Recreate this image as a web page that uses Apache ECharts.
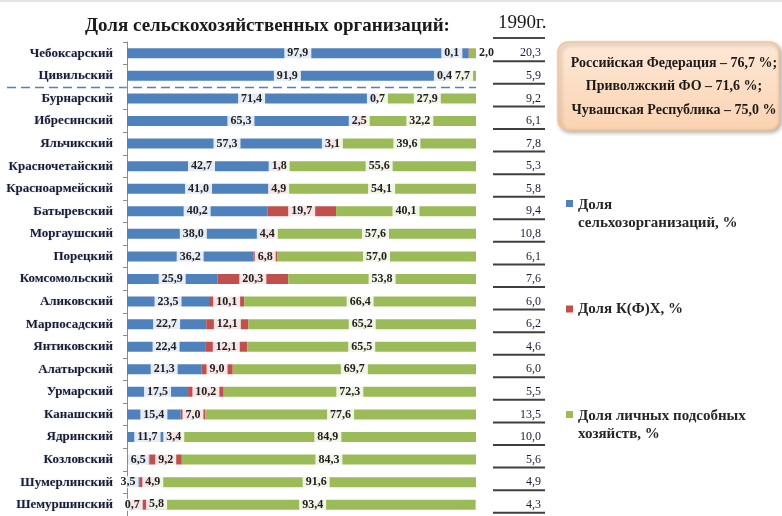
<!DOCTYPE html>
<html>
<head>
    <meta charset="utf-8">
    <title>Доля сельскохозяйственных организаций</title>
    <script type="text/javascript" src="https://cdn.jsdelivr.net/npm/echarts@6/dist/echarts.min.js"></script>
    <style>
    html, body { margin: 0; padding: 0; background: #fff; }
    #main { width: 782px; height: 516px; }
    </style>
</head>
<body>
    <div id="main"></div>
    <script type="text/javascript">
    // районы (сверху вниз)
    const districts = ['Чебоксарский', 'Цивильский', 'Бурнарский', 'Ибресинский', 'Яльчикский',
        'Красночетайский', 'Красноармейский', 'Батыревский', 'Моргаушский', 'Порецкий',
        'Комсомольский', 'Аликовский', 'Марпосадский', 'Янтиковский', 'Алатырский',
        'Урмарский', 'Канашский', 'Ядринский', 'Козловский', 'Шумерлинский', 'Шемуршинский'];
    // доля сельхозорганизаций, %
    const orgShare = [97.9, 91.9, 71.4, 65.3, 57.3, 42.7, 41.0, 40.2, 38.0, 36.2, 25.9,
        23.5, 22.7, 22.4, 21.3, 17.5, 15.4, 11.7, 6.5, 3.5, 0.7];
    // доля К(Ф)Х, %
    const kfhShare = [0.1, 0.4, 0.7, 2.5, 3.1, 1.8, 4.9, 19.7, 4.4, 6.8, 20.3,
        10.1, 12.1, 12.1, 9.0, 10.2, 7.0, 3.4, 9.2, 4.9, 5.8];
    // доля личных подсобных хозяйств, %
    const lphShare = [2.0, 7.7, 27.9, 32.2, 39.6, 55.6, 54.1, 40.1, 57.6, 57.0, 53.8,
        66.4, 65.2, 65.5, 69.7, 72.3, 77.6, 84.9, 84.3, 91.6, 93.4];
    // 1990 г.
    const share1990 = [20.3, 5.9, 9.2, 6.1, 7.8, 5.3, 5.8, 9.4, 10.8, 6.1, 7.6,
        6.0, 6.2, 4.6, 6.0, 5.5, 13.5, 10.0, 5.6, 4.9, 4.3];
    const summaryLines = ['Российская Федерация – 76,7 %;', 'Приволжский ФО – 71,6 %;', 'Чувашская Республика – 75,0 %'];

    const serif = "'Liberation Serif', 'Times New Roman', serif";
    const fmt = v => v.toFixed(1).replace('.', ',');

    const labelBase = {
        show: true,
        position: 'inside',
        fontFamily: serif,
        fontWeight: 'bold',
        fontSize: 12,
        color: '#1f1f1f',
        backgroundColor: 'rgba(255,255,255,0.85)',
        padding: [0, 3],
        formatter: p => fmt(p.value)
    };

    // отдельные подписи, сдвинутые как на исходнике
    function withLabels(values, tweaks) {
        return values.map((v, i) => tweaks[i] ? { value: v, label: tweaks[i] } : v);
    }
    const orgData = withLabels(orgShare, {
        19: { offset: [-5, 0] },
        20: { offset: [4, 0] }
    });
    const kfhData = withLabels(kfhShare, {
        0: { offset: [-17, 0] },
        1: { offset: [-4, 0] },
        19: { offset: [5, 0] },
        20: { offset: [17, -1] }
    });
    const lphData = withLabels(lphShare, {
        0: { position: 'right', distance: 0, backgroundColor: 'transparent' }
    });

    const twoLineIcon = 'path://M0,0H6V6H0Z M0,24H0.05V24.05H0Z';
    const legendText = { fontFamily: serif, fontWeight: 'bold', fontSize: 15, color: '#262626', lineHeight: 18 };

    const myChart = echarts.init(document.getElementById('main'));
    const option = {
        animation: false,
        title: [{
            text: 'Доля сельскохозяйственных организаций:',
            left: 80,
            top: 12,
            textStyle: { fontFamily: serif, fontWeight: 'bold', fontSize: 19, color: '#1a1a1a' }
        }, {
            text: '1990г.',
            left: 493,
            top: 9,
            textStyle: { fontFamily: serif, fontWeight: 'normal', fontSize: 19, color: '#1a1a1a' }
        }],
        legend: [{
            data: ['Доля\nсельхозорганизаций, %'],
            left: 561, top: 191, orient: 'vertical',
            icon: twoLineIcon, itemWidth: 7, itemHeight: 28,
            selectedMode: false, textStyle: legendText
        }, {
            data: ['Доля К(Ф)Х, %'],
            left: 561, top: 295, orient: 'vertical',
            icon: 'rect', itemWidth: 7, itemHeight: 7,
            selectedMode: false, textStyle: legendText
        }, {
            data: ['Доля личных подсобных\nхозяйств, %'],
            left: 561, top: 402, orient: 'vertical',
            icon: twoLineIcon, itemWidth: 7, itemHeight: 28,
            selectedMode: false, textStyle: legendText
        }],
        grid: { left: 127, right: 306, top: 42, bottom: 0, containLabel: false },
        xAxis: { type: 'value', min: 0, max: 100, show: false },
        yAxis: {
            type: 'category',
            inverse: true,
            data: districts,
            axisLine: { lineStyle: { color: '#8c8c8c', width: 1 } },
            axisTick: { show: true, length: 4, lineStyle: { color: '#8c8c8c' } },
            axisLabel: {
                margin: 14,
                fontFamily: serif,
                fontWeight: 'bold',
                fontSize: 13,
                color: '#1c1c30',
                textShadowColor: 'rgba(79,129,189,0.35)',
                textShadowBlur: 2
            }
        },
        series: [{
            name: 'Доля\nсельхозорганизаций, %',
            type: 'bar', stack: 'all', barWidth: 10,
            itemStyle: { color: '#4f81bd' },
            label: labelBase,
            data: orgData
        }, {
            name: 'Доля К(Ф)Х, %',
            type: 'bar', stack: 'all', barWidth: 10,
            itemStyle: { color: '#c0504d' },
            label: labelBase,
            data: kfhData
        }, {
            name: 'Доля личных подсобных\nхозяйств, %',
            type: 'bar', stack: 'all', barWidth: 10,
            itemStyle: { color: '#9bbb59' },
            label: labelBase,
            data: lphData
        }, {
            // колонка 1990 г. с подчёркиванием
            name: '1990',
            type: 'custom',
            clip: false,
            silent: true,
            encode: { x: 0, y: 1 },
            data: share1990.map((v, i) => [0, i, v]),
            renderItem: function (params, api) {
                const y = api.coord([0, api.value(1)])[1];
                return {
                    type: 'group',
                    children: [{
                        type: 'text',
                        style: {
                            x: 541, y: y, text: fmt(api.value(2)),
                            align: 'right', verticalAlign: 'middle',
                            font: "12px 'Liberation Serif', serif", fill: '#1a1a3a'
                        }
                    }, {
                        type: 'line',
                        shape: { x1: 493, y1: y + 8, x2: 545, y2: y + 8 },
                        style: { stroke: '#3f3f3f', lineWidth: 2 }
                    }]
                };
            }
        }]
    };
    myChart.setOption(option);

    // пунктир между Цивильским и Бурнарским, рамка с итогами
    const yA = myChart.convertToPixel({ yAxisIndex: 0 }, districts[1]);
    const yB = myChart.convertToPixel({ yAxisIndex: 0 }, districts[2]);
    const sepY = Math.round((yA + yB) / 2) + 0.5;
    myChart.setOption({
        graphic: [{
            type: 'rect',
            shape: { x: 0, y: 0, width: 782, height: 2 },
            style: { fill: '#e1e6df' }
        }, {
            type: 'line',
            shape: { x1: 7, y1: sepY, x2: 476, y2: sepY },
            style: { stroke: '#4f81bd', lineWidth: 1.5, lineDash: [9, 5] }
        }, {
            type: 'line',
            shape: { x1: 493, y1: 38, x2: 545, y2: 38 },
            style: { stroke: '#4a4a4a', lineWidth: 2 }
        }, {
            type: 'rect',
            shape: { x: 558, y: 42, width: 221, height: 88, r: 10 },
            style: {
                fill: new echarts.graphic.LinearGradient(0, 0, 0, 1, [
                    { offset: 0, color: '#fde8d6' },
                    { offset: 1, color: '#fbd3b2' }
                ]),
                stroke: '#f3c39c',
                lineWidth: 1.5,
                shadowColor: 'rgba(0,0,0,0.3)',
                shadowBlur: 4,
                shadowOffsetX: 2,
                shadowOffsetY: 2
            }
        }].concat(summaryLines.map((t, i) => ({
            type: 'text',
            style: {
                x: 674, y: 63 + i * 23.5, text: t,
                align: 'center', verticalAlign: 'middle',
                font: "bold 14px 'Liberation Serif', serif", fill: '#1a1a1a'
            }
        })))
    });
    </script>
</body>
</html>
